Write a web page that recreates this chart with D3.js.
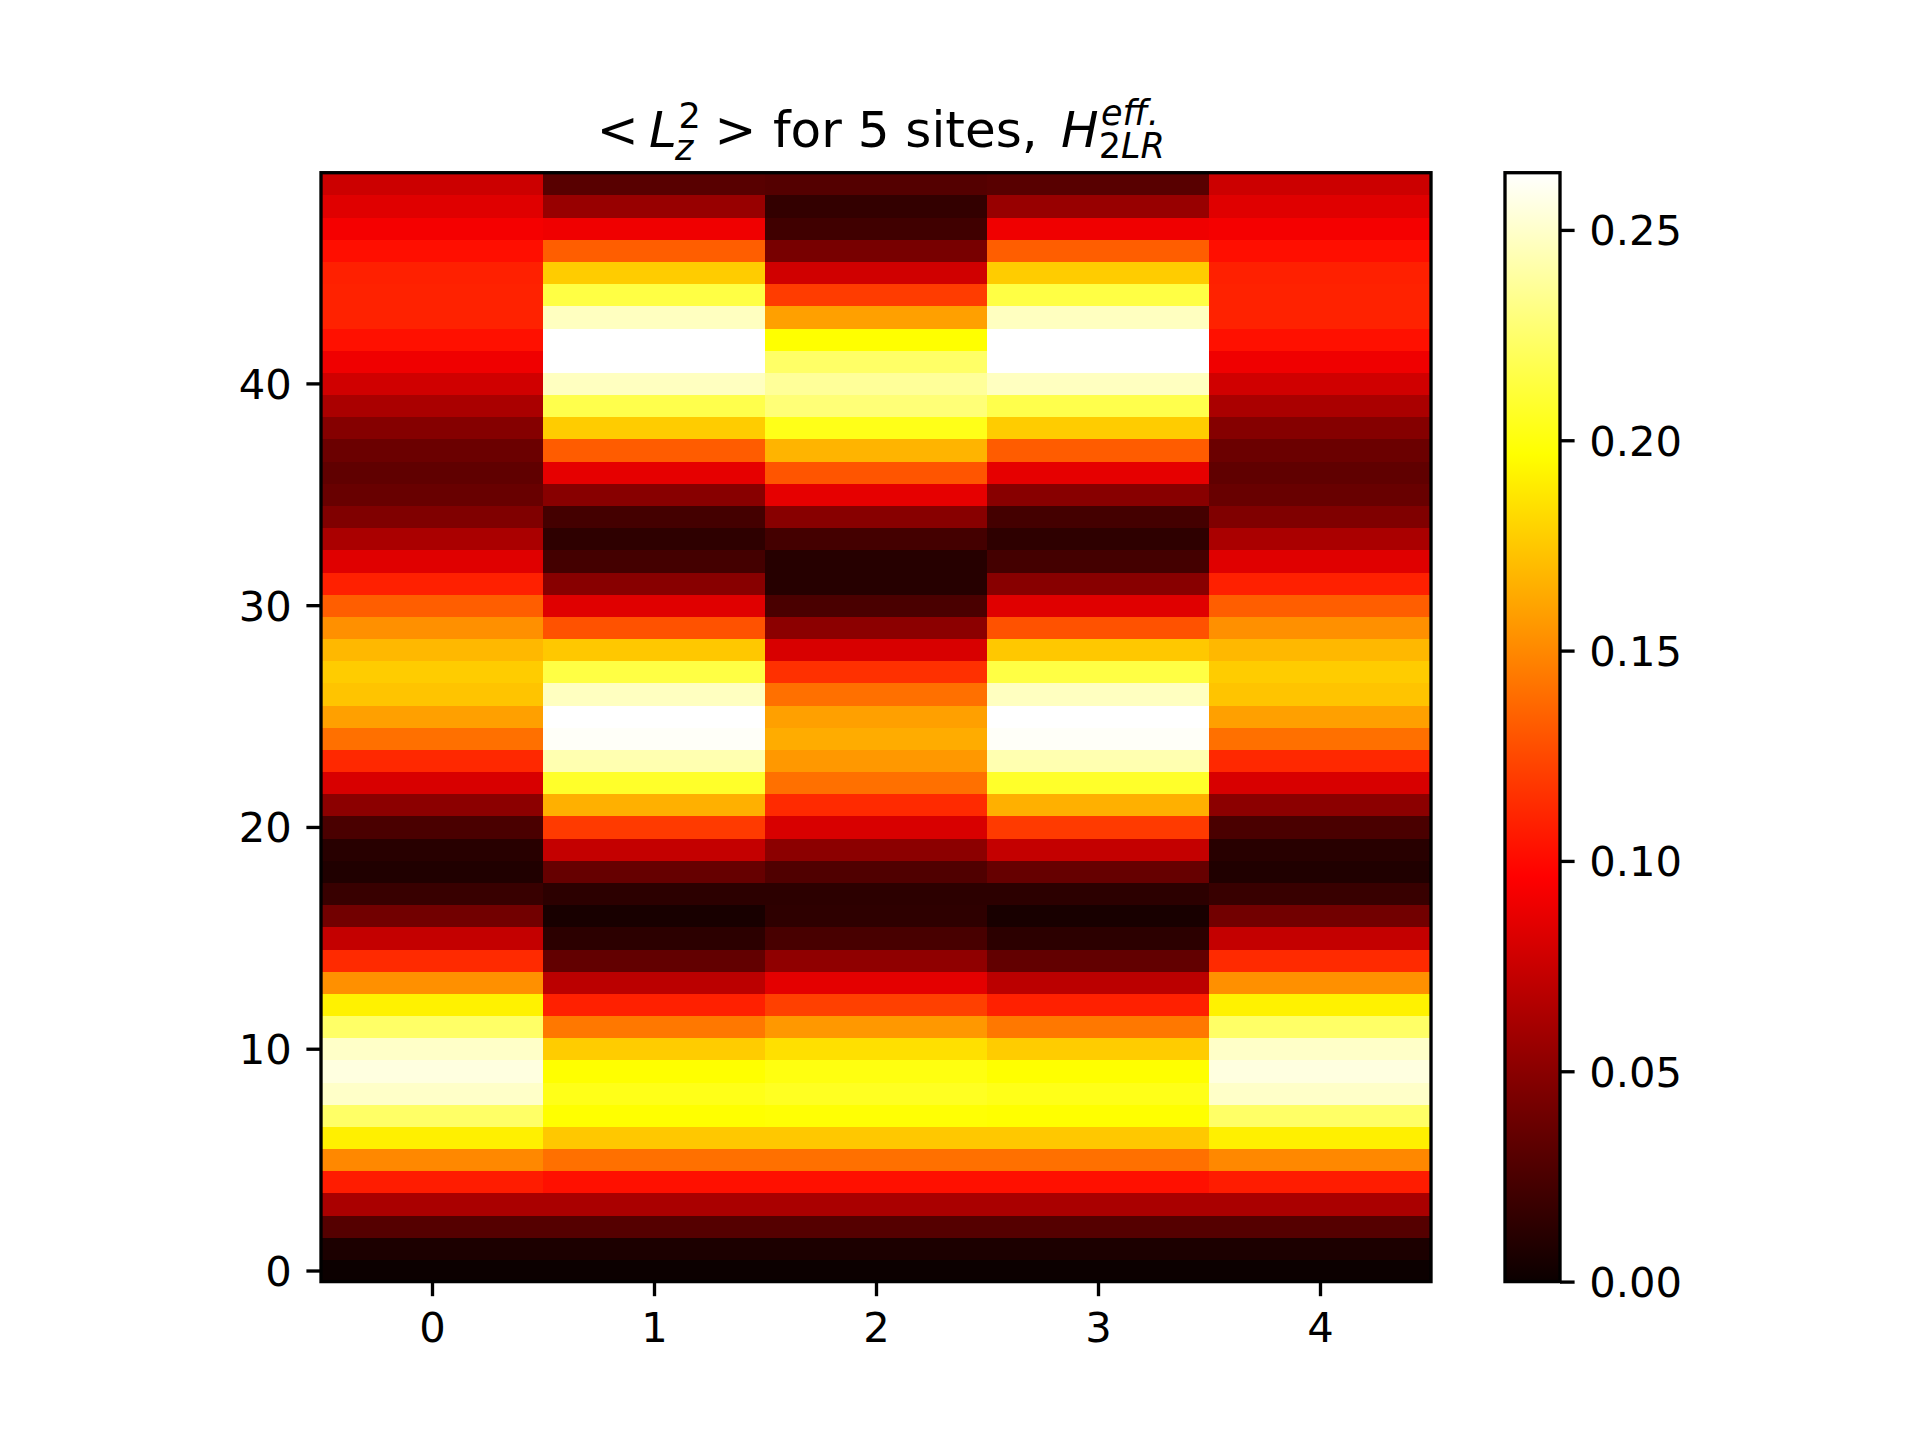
<!DOCTYPE html>
<html>
<head>
<meta charset="utf-8">
<script src="https://cdn.jsdelivr.net/npm/d3@7"></script>
<style>
  html, body { margin: 0; padding: 0; background: #ffffff; }
  svg { display: block; }
</style>
</head>
<body>
<svg id="chart" width="1920" height="1440"></svg>
<script>
// ---------------- data ----------------
const sites = [0, 1, 2, 3, 4];
const yTicks = [0, 10, 20, 30, 40];
const cbTicks = [0.00, 0.05, 0.10, 0.15, 0.20, 0.25];
const vmin = 0.0;
const vmax = 0.2636;
const titleMainText = "for 5 sites,";

// values per site, index = row (0 at bottom, 49 at top)
const site0 = [0.0005, 0.0068, 0.0293, 0.0628, 0.1073, 0.1498, 0.1908, 0.2234, 0.2492, 0.2555,
               0.2492, 0.2234, 0.1916, 0.1530, 0.1128, 0.0730, 0.0407, 0.0179, 0.0084, 0.0116,
               0.0249, 0.0509, 0.0809, 0.1120, 0.1404, 0.1593, 0.1735, 0.1766, 0.1687, 0.1530,
               0.1333, 0.1088, 0.0840, 0.0628, 0.0462, 0.0368, 0.0336, 0.0380, 0.0482, 0.0628,
               0.0777, 0.0903, 0.1025, 0.1096, 0.1096, 0.1088, 0.1017, 0.0923, 0.0840, 0.0762];
const site1 = [0.0005, 0.0068, 0.0293, 0.0628, 0.1025, 0.1404, 0.1750, 0.1966, 0.2030, 0.1966,
               0.1766, 0.1435, 0.1088, 0.0694, 0.0344, 0.0131, 0.0053, 0.0131, 0.0360, 0.0730,
               0.1191, 0.1656, 0.2077, 0.2429, 0.2618, 0.2636, 0.2471, 0.2145, 0.1750, 0.1285,
               0.0840, 0.0494, 0.0226, 0.0139, 0.0226, 0.0494, 0.0864, 0.1325, 0.1766, 0.2166,
               0.2471, 0.2636, 0.2636, 0.2471, 0.2145, 0.1766, 0.1333, 0.0903, 0.0557, 0.0305];
const site2 = [0.0005, 0.0068, 0.0293, 0.0628, 0.1025, 0.1404, 0.1750, 0.1977, 0.2056, 0.2009,
               0.1845, 0.1561, 0.1214, 0.0856, 0.0525, 0.0241, 0.0139, 0.0131, 0.0273, 0.0509,
               0.0809, 0.1128, 0.1404, 0.1561, 0.1640, 0.1593, 0.1404, 0.1151, 0.0809, 0.0509,
               0.0249, 0.0108, 0.0108, 0.0226, 0.0494, 0.0864, 0.1297, 0.1671, 0.2030, 0.2279,
               0.2368, 0.2234, 0.1966, 0.1593, 0.1199, 0.0777, 0.0431, 0.0210, 0.0159, 0.0289];
const site3 = [0.0005, 0.0068, 0.0293, 0.0628, 0.1025, 0.1404, 0.1750, 0.1966, 0.2030, 0.1966,
               0.1766, 0.1435, 0.1088, 0.0694, 0.0344, 0.0131, 0.0053, 0.0131, 0.0360, 0.0730,
               0.1191, 0.1656, 0.2077, 0.2429, 0.2618, 0.2636, 0.2471, 0.2145, 0.1750, 0.1285,
               0.0840, 0.0494, 0.0226, 0.0139, 0.0226, 0.0494, 0.0864, 0.1325, 0.1766, 0.2166,
               0.2471, 0.2636, 0.2636, 0.2471, 0.2145, 0.1766, 0.1333, 0.0903, 0.0557, 0.0305];
const site4 = [0.0005, 0.0068, 0.0293, 0.0628, 0.1073, 0.1498, 0.1908, 0.2234, 0.2492, 0.2555,
               0.2492, 0.2234, 0.1916, 0.1530, 0.1128, 0.0730, 0.0407, 0.0179, 0.0084, 0.0116,
               0.0249, 0.0509, 0.0809, 0.1120, 0.1404, 0.1593, 0.1735, 0.1766, 0.1687, 0.1530,
               0.1333, 0.1088, 0.0840, 0.0628, 0.0462, 0.0368, 0.0336, 0.0380, 0.0482, 0.0628,
               0.0777, 0.0903, 0.1025, 0.1096, 0.1096, 0.1088, 0.1017, 0.0923, 0.0840, 0.0762];
const siteValues = [site0, site1, site2, site3, site4];

// ---------------- layout ----------------
const svg = d3.select("#chart");
const FONT = "DejaVu Sans, Bitstream Vera Sans, sans-serif";
const tickFont = 41.67;
const lw = 3.33;
const tickLen = 14.6, tickPad = 14.6;

const plot = { left: 321, right: 1431, top: 172.7, bottom: 1281.6 };
const cb = { left: 1505, right: 1560, top: 172.7, bottom: 1281.6 };

const nRows = site0.length;
const x = d3.scaleLinear().domain([-0.5, sites.length - 0.5]).range([plot.left, plot.right]);
const y = d3.scaleLinear().domain([-0.5, nRows - 0.5]).range([plot.bottom, plot.top]);

// matplotlib "hot" colormap as a piecewise-linear d3 scale
const hotStops = [0, 0.365079, 0.746032, 1];
const hotColors = ["#0b0000", "#ff0000", "#ffff00", "#ffffff"];
const color = d3.scaleLinear()
  .domain(hotStops.map(s => vmin + s * (vmax - vmin)))
  .range(hotColors)
  .interpolate(d3.interpolateRgb)
  .clamp(true);

// ---------------- cells ----------------
const cells = [];
sites.forEach((s, i) => {
  siteValues[i].forEach((v, r) => cells.push({ site: s, row: r, value: v }));
});

svg.append("g").attr("class", "cells")
  .selectAll("rect").data(cells).enter().append("rect")
  .attr("x", d => x(d.site - 0.5))
  .attr("y", d => y(d.row + 0.5))
  .attr("width", d => x(d.site + 0.5) - x(d.site - 0.5) + 0.6)
  .attr("height", d => y(d.row - 0.5) - y(d.row + 0.5) + 0.6)
  .attr("fill", d => color(d.value))
  .attr("shape-rendering", "crispEdges");

// ---------------- axes ----------------
function styleAxis(g) {
  g.select(".domain").remove();
  g.selectAll(".tick line").attr("stroke", "#000").attr("stroke-width", lw);
  g.selectAll(".tick text").attr("fill", "#000")
    .attr("font-family", FONT).attr("font-size", tickFont);
}

const xAxis = d3.axisBottom(x).tickValues(sites).tickFormat(d3.format("d"))
  .tickSize(tickLen).tickPadding(tickPad);
svg.append("g").attr("transform", `translate(0,${plot.bottom})`).call(xAxis).call(styleAxis)
  .selectAll(".tick text").attr("dy", "0.75em");

const yAxis = d3.axisLeft(y).tickValues(yTicks).tickFormat(d3.format("d"))
  .tickSize(tickLen).tickPadding(tickPad);
svg.append("g").attr("transform", `translate(${plot.left},0)`).call(yAxis).call(styleAxis)
  .selectAll(".tick text").attr("dy", "0.36em");

// spines
svg.append("rect")
  .attr("x", plot.left).attr("y", plot.top)
  .attr("width", plot.right - plot.left).attr("height", plot.bottom - plot.top)
  .attr("fill", "none").attr("stroke", "#000").attr("stroke-width", lw);

// ---------------- colorbar ----------------
const defs = svg.append("defs");
const grad = defs.append("linearGradient").attr("id", "hotgrad")
  .attr("x1", "0").attr("y1", "1").attr("x2", "0").attr("y2", "0");
grad.selectAll("stop").data(hotStops).enter().append("stop")
  .attr("offset", d => d)
  .attr("stop-color", (d, i) => hotColors[i]);

const cbScale = d3.scaleLinear().domain([vmin, vmax]).range([cb.bottom, cb.top]);
svg.append("rect")
  .attr("x", cb.left).attr("y", cb.top)
  .attr("width", cb.right - cb.left).attr("height", cb.bottom - cb.top)
  .attr("fill", "url(#hotgrad)");

const cbAxis = d3.axisRight(cbScale).tickValues(cbTicks).tickFormat(d3.format(".2f"))
  .tickSize(tickLen).tickPadding(tickPad);
svg.append("g").attr("transform", `translate(${cb.right},0)`).call(cbAxis).call(styleAxis)
  .selectAll(".tick text").attr("dy", "0.36em");

svg.append("rect")
  .attr("x", cb.left).attr("y", cb.top)
  .attr("width", cb.right - cb.left).attr("height", cb.bottom - cb.top)
  .attr("fill", "none").attr("stroke", "#000").attr("stroke-width", lw);

// ---------------- title (mathtext-like, one text element) ----------------
const em = 50, script = 35;
const base = 146.7;
const title = svg.append("text")
  .attr("font-family", FONT).attr("font-size", em).attr("fill", "#000");
const parts = [
  { s: "<",  x: 596.7, y: base },
  { s: "L",  x: 649.0, y: base, it: true },
  { s: "2",  x: 678.5, y: base - 18.4, size: script },
  { s: "z",  x: 675.0, y: base + 13.3, size: script, it: true },
  { s: ">",  x: 714.5, y: base },
  { s: titleMainText, x: 773.0, y: base },
  { s: "H",  x: 1061.0, y: base, it: true },
  { s: "eff.", x: 1101.0, y: base - 21.7, size: script, it: true },
  { s: "2",  x: 1098.7, y: base + 10.8, size: script },
  { s: "LR", y: base + 10.8, size: script, it: true }
];
parts.forEach(p => {
  const ts = title.append("tspan").text(p.s)
    .attr("y", p.y)
    .attr("font-size", p.size || em)
    .attr("font-style", p.it ? "italic" : "normal");
  if (p.x !== undefined) ts.attr("x", p.x);
});
</script>
</body>
</html>
